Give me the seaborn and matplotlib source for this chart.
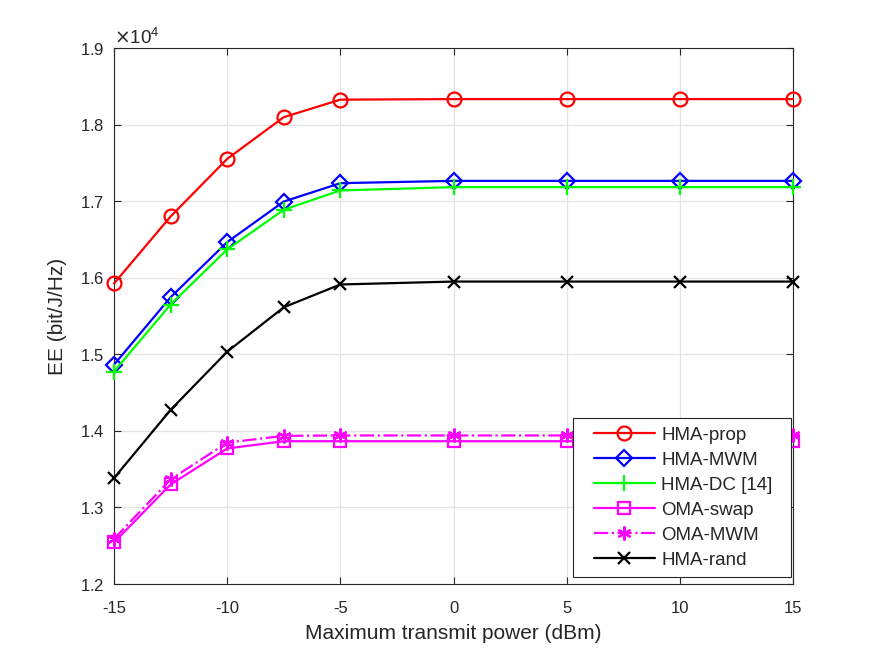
import numpy as np
import pandas as pd
import matplotlib
matplotlib.use("Agg")
import matplotlib.pyplot as plt
import seaborn as sns
from matplotlib.ticker import ScalarFormatter
from matplotlib.lines import Line2D
from matplotlib.legend_handler import HandlerLine2D

# snaga (dBm)
power = [-15, -12.5, -10, -7.5, -5, 0, 5, 10, 15]

# EE vrijednosti (bit/J/Hz)
hma_prop = [15925, 16800, 17552, 18097, 18326, 18333, 18333, 18333, 18333]
hma_mwm = [14864, 15745, 16465, 16995, 17235, 17265, 17265, 17265, 17265]
hma_dc = [14775, 15650, 16370, 16888, 17140, 17183, 17183, 17183, 17183]
oma_swap = [12543, 13300, 13770, 13865, 13865, 13865, 13865, 13865, 13865]
oma_mwm = [12590, 13366, 13847, 13935, 13940, 13940, 13940, 13940, 13940]
hma_rand = [13383, 14274, 15034, 15614, 15912, 15950, 15950, 15950, 15950]

names = ["HMA-prop", "HMA-MWM", "HMA-DC [14]", "OMA-swap", "OMA-MWM", "HMA-rand"]

sns.set_theme(style="ticks")
plt.rcParams['font.family'] = ['Liberation Sans', 'DejaVu Sans']
plt.rcParams['axes.unicode_minus'] = False

fig = plt.figure(figsize=(8.75, 6.57), dpi=100)
ax = fig.add_axes([0.1303, 0.1111, 0.776, 0.8158])

series = [hma_prop, hma_mwm, hma_dc, oma_swap, oma_mwm, hma_rand]
styles = [
    dict(color='#ff0000', marker='o', ms=10, ls='-'),
    dict(color='#0000ff', marker='D', ms=8, ls='-'),
    dict(color='#00ff00', marker='+', ms=11, ls='-'),
    dict(color='#ff00ff', marker='s', ms=8, ls='-'),
    dict(color='#ff00ff', marker=(6, 2, 0), ms=10, ls='-.'),
    dict(color='#000000', marker='x', ms=8, ls='-'),
]

for name, vals, st in zip(names, series, styles):
    df = pd.DataFrame({'p': power, 'ee': vals})
    sns.lineplot(data=df, x='p', y='ee', ax=ax, label=name, color=st['color'],
                 marker=st['marker'], markersize=st['ms'], linestyle=st['ls'],
                 markerfacecolor='none', markeredgecolor=st['color'],
                 markeredgewidth=1.6, linewidth=1.6, zorder=3, clip_on=False)

ax.set_xlim(-15, 15)
ax.set_ylim(12000, 19000)
ax.set_xticks([-15, -10, -5, 0, 5, 10, 15])
ax.set_yticks(np.arange(12000, 19001, 1000))

fmt = ScalarFormatter(useMathText=True)
fmt.set_powerlimits((4, 4))
ax.yaxis.set_major_formatter(fmt)
ax.yaxis.get_offset_text().set_fontsize(13.5)
ax.yaxis.get_offset_text().set_color('#262626')

ax.grid(True, color='#e3e3e3', linewidth=0.9)
ax.set_axisbelow(True)
for s in ax.spines.values():
    s.set_color('#262626')
    s.set_linewidth(0.8)
    s.set_visible(True)
ax.tick_params(direction='in', length=5, width=0.8, colors='#262626',
               labelsize=12, top=True, right=True)
ax.tick_params(axis='x', pad=12)
ax.tick_params(axis='y', pad=7)

ax.set_xlabel('Maximum transmit power (dBm)', fontsize=15, color='#262626', labelpad=6)
ax.set_ylabel('EE (bit/J/Hz)', fontsize=15, color='#262626', labelpad=9)

# legenda - sirina kao u originalu
leg = ax.legend(loc='lower left', bbox_to_anchor=(0.676, 0.013, 0.321, 0.3),
                mode='expand', borderaxespad=0,
                fontsize=13.5, frameon=True, fancybox=False,
                edgecolor='#262626', framealpha=1, borderpad=0.45,
                handlelength=3.9, handletextpad=0.35, labelspacing=0.42,
                handler_map={Line2D: HandlerLine2D(xpad=0.65)})
leg.get_frame().set_linewidth(0.8)
leg.set_zorder(5)

fig.savefig('out.png', dpi=100)
